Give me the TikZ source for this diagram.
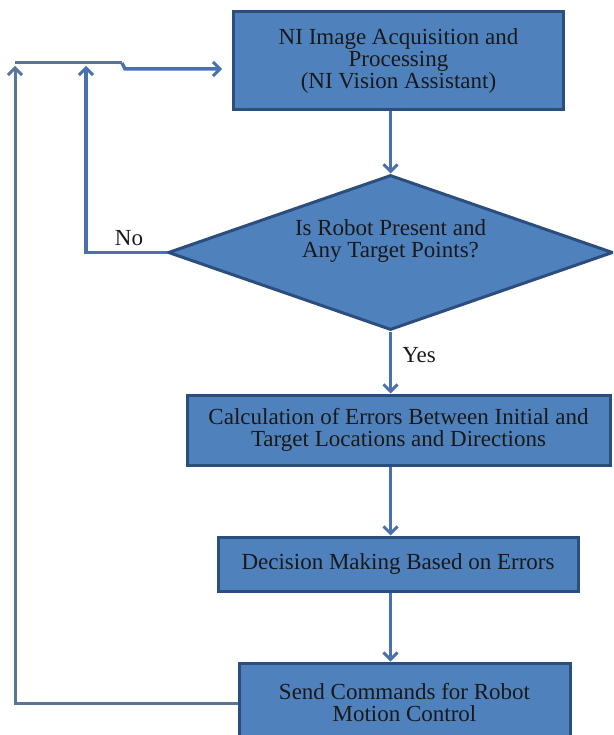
\documentclass[tikz,border=0pt]{standalone}
\usepackage{fontspec}
\setmainfont{Liberation Serif}
\usetikzlibrary{shapes.geometric,arrows.meta}
\definecolor{boxfill}{HTML}{4F81BD}
\definecolor{boxedge}{HTML}{2C4E7E}
\definecolor{flow}{HTML}{4A70B0}
\definecolor{back}{HTML}{5A7598}
\begin{document}
\begin{tikzpicture}[x=1pt,y=-1pt,
  txt/.style={font=\fontsize{23}{22}\selectfont,text=black!90,align=center},
  blk/.style={txt,draw=boxedge,line width=3pt,fill=boxfill},
  tip/.style={-{Straight Barb[length=7pt,width=14pt,line width=3pt]}},
  flowline/.style={draw=flow,line width=3.5pt,tip},
  backline/.style={draw=back,line width=3pt}]
\useasboundingbox (0,0) rectangle (613,735);
\clip (0,0) rectangle (613,735);
\node[blk,minimum width=330pt,minimum height=98pt] (acq) at (398.5,61) {NI Image Acquisition and\\Processing\\(NI Vision Assistant)};
\node[blk,diamond,aspect=2.87,minimum width=445pt,minimum height=155pt,inner sep=0pt,
  label={[txt,yshift=11pt]center:{Is Robot Present and\\Any Target Points?}}] (check) at (390.5,252.5) {};
\node[blk,minimum width=423pt,minimum height=70pt] (calc) at (398.5,430) {Calculation of Errors Between Initial and\\Target Locations and Directions};
\node[blk,minimum width=360pt,minimum height=54pt] (decide) at (398,564) {Decision Making Based on Errors};
\node[blk,minimum width=331pt,minimum height=80pt] (send) at (404.5,703) {Send Commands for Robot\\Motion Control};
\node[txt] (no) at (129,238) {No};
\node[txt] (yes) at (419,355) {Yes};
\coordinate (loop) at (15,63);
\coordinate (noturn) at (86,63);
\coordinate (bend) at (122,63);
\draw[flowline] (check.north |- acq.south) -- (check.north);
\draw[flowline] (check.south) -- (check.south |- calc.north);
\draw[flowline] (check.south |- calc.south) -- (check.south |- decide.north);
\draw[flowline] (check.south |- decide.south) -- (check.south |- send.north);
\draw[flowline] (check.west) -| ([yshift=-3pt]noturn);
\draw[backline,tip] (send.west) -| ([yshift=-3pt]loop);
\draw[backline] (loop) -- (bend);
\draw[flowline] (bend) -- ++(3,6) -- ([xshift=-10pt,yshift=-8pt]acq.west);
\end{tikzpicture}
\end{document}
